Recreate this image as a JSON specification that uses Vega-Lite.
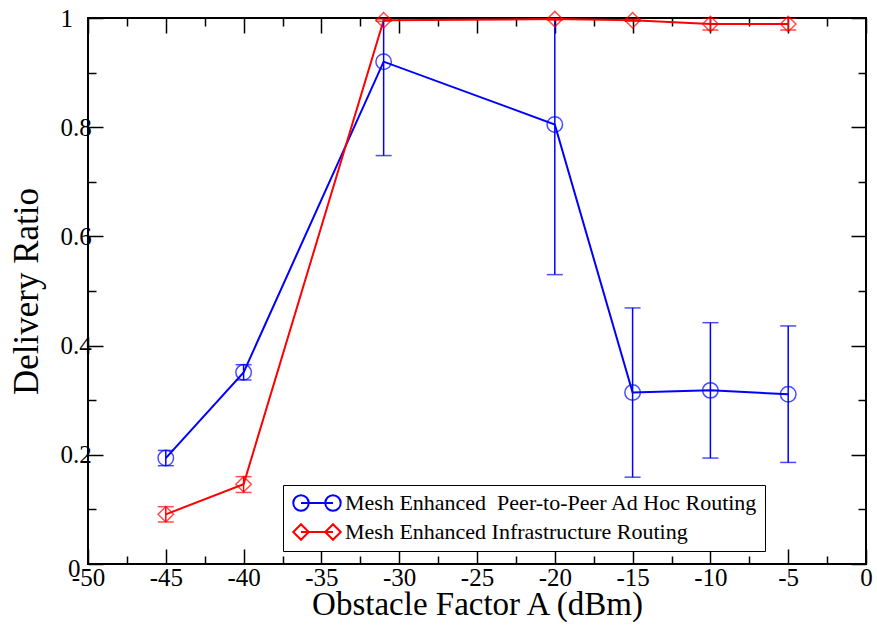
{
  "$schema": "https://vega.github.io/schema/vega-lite/v6.json",
  "autosize": {"type": "none"},
  "width": 778,
  "height": 546,
  "padding": {"left": 88, "top": 18, "right": 11, "bottom": 62},
  "background": "white",
  "config": {
    "font": "Liberation Serif",
    "view": {"stroke": "black", "strokeWidth": 2},
    "axis": {"domain": false, "grid": false, "labelFont": "Liberation Serif", "titleFont": "Liberation Serif", "titleFontWeight": "normal", "labelColor": "black", "titleColor": "black", "tickColor": "black", "tickWidth": 1.5}
  },
  "data": {
    "values": [
      {"series": "Mesh Enhanced\u00a0 Peer-to-Peer Ad Hoc Routing", "x": -45, "y": 0.194, "lo": 0.180, "hi": 0.208},
      {"series": "Mesh Enhanced\u00a0 Peer-to-Peer Ad Hoc Routing", "x": -40, "y": 0.351, "lo": 0.337, "hi": 0.365},
      {"series": "Mesh Enhanced\u00a0 Peer-to-Peer Ad Hoc Routing", "x": -31, "y": 0.920, "lo": 0.748, "hi": 1.092},
      {"series": "Mesh Enhanced\u00a0 Peer-to-Peer Ad Hoc Routing", "x": -20, "y": 0.805, "lo": 0.530, "hi": 1.080},
      {"series": "Mesh Enhanced\u00a0 Peer-to-Peer Ad Hoc Routing", "x": -15, "y": 0.314, "lo": 0.159, "hi": 0.469},
      {"series": "Mesh Enhanced\u00a0 Peer-to-Peer Ad Hoc Routing", "x": -10, "y": 0.318, "lo": 0.194, "hi": 0.442},
      {"series": "Mesh Enhanced\u00a0 Peer-to-Peer Ad Hoc Routing", "x": -5, "y": 0.311, "lo": 0.186, "hi": 0.436},
      {"series": "Mesh Enhanced Infrastructure Routing", "x": -45, "y": 0.091, "lo": 0.077, "hi": 0.105},
      {"series": "Mesh Enhanced Infrastructure Routing", "x": -40, "y": 0.146, "lo": 0.131, "hi": 0.160},
      {"series": "Mesh Enhanced Infrastructure Routing", "x": -31, "y": 0.996, "lo": 0.994, "hi": 0.998},
      {"series": "Mesh Enhanced Infrastructure Routing", "x": -20, "y": 0.998, "lo": 0.996, "hi": 1.000},
      {"series": "Mesh Enhanced Infrastructure Routing", "x": -15, "y": 0.996, "lo": 0.994, "hi": 0.998},
      {"series": "Mesh Enhanced Infrastructure Routing", "x": -10, "y": 0.989, "lo": 0.978, "hi": 1.000},
      {"series": "Mesh Enhanced Infrastructure Routing", "x": -5, "y": 0.989, "lo": 0.978, "hi": 1.000}
    ]
  },
  "resolve": {"axis": {"x": "independent", "y": "independent"}},
  "layer": [
    {
      "mark": {"type": "line", "strokeWidth": 2, "clip": true},
      "encoding": {
        "x": {"field": "x", "type": "quantitative", "scale": {"domain": [-50, 0], "nice": false},
          "axis": {"orient": "bottom", "title": "Obstacle Factor A (dBm)", "titleFontSize": 33, "titlePadding": -9,
            "values": [-50, -47.5, -45, -42.5, -40, -37.5, -35, -32.5, -30, -27.5, -25, -22.5, -20, -17.5, -15, -12.5, -10, -7.5, -5, -2.5, 0],
            "labelExpr": "datum.value % 5 === 0 ? '' + datum.value : ''",
            "labelFontSize": 25, "labelPadding": 16, "labelFlush": false, "labelOverlap": false,
            "tickSize": {"condition": {"test": "datum.value % 5 === 0", "value": -15}, "value": -8}}},
        "y": {"field": "y", "type": "quantitative", "scale": {"domain": [0, 1], "nice": false},
          "axis": {"orient": "left", "title": "Delivery Ratio", "titleFontSize": 35, "titlePadding": 9,
            "values": [0, 0.1, 0.2, 0.3, 0.4, 0.5, 0.6, 0.7, 0.8, 0.9, 1],
            "labelExpr": "abs(datum.value * 5 - round(datum.value * 5)) < 0.000001 ? '' + datum.value : ''",
            "labelFontSize": 25, "labelFlush": false, "labelOverlap": false,
            "labelAlign": {"condition": {"test": "datum.value === 0", "value": "right"}, "value": "left"},
            "labelPadding": {"condition": {"test": "datum.value === 0", "value": 23}, "value": 43},
            "labelOffset": {"condition": {"test": "datum.value === 0", "value": 4}, "value": 0},
            "tickSize": {"condition": {"test": "abs(datum.value * 5 - round(datum.value * 5)) < 0.000001", "value": -15}, "value": -8}}},
        "detail": {"field": "series", "type": "nominal"},
        "color": {"condition": {"test": "datum.series === 'Mesh Enhanced Infrastructure Routing'", "value": "#ff0000"}, "value": "#0000ff"}
      }
    },
    {
      "mark": {"type": "rule", "strokeWidth": 1.5, "clip": true},
      "encoding": {
        "x": {"field": "x", "type": "quantitative",
          "axis": {"orient": "top", "title": null, "labels": false,
            "values": [-50, -47.5, -45, -42.5, -40, -37.5, -35, -32.5, -30, -27.5, -25, -22.5, -20, -17.5, -15, -12.5, -10, -7.5, -5, -2.5, 0],
            "tickSize": {"condition": {"test": "datum.value % 5 === 0", "value": -15}, "value": -8}}},
        "y": {"field": "lo", "type": "quantitative",
          "axis": {"orient": "right", "title": null, "labels": false,
            "values": [0, 0.1, 0.2, 0.3, 0.4, 0.5, 0.6, 0.7, 0.8, 0.9, 1],
            "tickSize": {"condition": {"test": "abs(datum.value * 5 - round(datum.value * 5)) < 0.000001", "value": -15}, "value": -8}}},
        "y2": {"field": "hi"},
        "color": {"condition": {"test": "datum.series === 'Mesh Enhanced Infrastructure Routing'", "value": "#ff0000"}, "value": "#0000ff"}
      }
    },
    {
      "mark": {"type": "tick", "orient": "horizontal", "size": 16, "thickness": 1.5, "clip": true},
      "encoding": {
        "x": {"field": "x", "type": "quantitative", "axis": null},
        "y": {"field": "lo", "type": "quantitative", "axis": null},
        "color": {"condition": {"test": "datum.series === 'Mesh Enhanced Infrastructure Routing'", "value": "#ff0000"}, "value": "#0000ff"}
      }
    },
    {
      "mark": {"type": "tick", "orient": "horizontal", "size": 16, "thickness": 1.5, "clip": true},
      "encoding": {
        "x": {"field": "x", "type": "quantitative", "axis": null},
        "y": {"field": "hi", "type": "quantitative", "axis": null},
        "color": {"condition": {"test": "datum.series === 'Mesh Enhanced Infrastructure Routing'", "value": "#ff0000"}, "value": "#0000ff"}
      }
    },
    {
      "mark": {"type": "point", "filled": false, "size": 240, "strokeWidth": 1.5},
      "encoding": {
        "x": {"field": "x", "type": "quantitative", "axis": null},
        "y": {"field": "y", "type": "quantitative", "axis": null},
        "color": {"condition": {"test": "datum.series === 'Mesh Enhanced Infrastructure Routing'", "value": "#ff0000"}, "value": "#0000ff"},
        "shape": {"condition": {"test": "datum.series === 'Mesh Enhanced Infrastructure Routing'", "value": "diamond"}, "value": "circle"}
      }
    },
    {
      "mark": {"type": "point", "filled": false, "size": 240, "strokeWidth": 2, "opacity": 0},
      "encoding": {
        "x": {"field": "x", "type": "quantitative", "axis": null},
        "y": {"field": "y", "type": "quantitative", "axis": null},
        "color": {"field": "series", "type": "nominal",
          "scale": {"domain": ["Mesh Enhanced\u00a0 Peer-to-Peer Ad Hoc Routing", "Mesh Enhanced Infrastructure Routing"], "range": ["#0000ff", "#ff0000"]},
          "legend": {"orient": "none", "legendX": 195, "legendY": 467, "title": null, "padding": 7, "rowPadding": 5,
            "strokeColor": "black", "fillColor": "white", "labelFont": "Liberation Serif", "labelFontSize": 22, "labelLimit": 600,
            "labelColor": "black", "labelOffset": 33, "symbolStrokeWidth": 2, "symbolSize": 240, "symbolOpacity": 1}},
        "shape": {"field": "series", "type": "nominal",
          "scale": {"domain": ["Mesh Enhanced\u00a0 Peer-to-Peer Ad Hoc Routing", "Mesh Enhanced Infrastructure Routing"],
            "range": ["M-1,0A1,1,0,1,0,1,0A1,1,0,1,0,-1,0Z M0,0L4.13,0 M3.13,0A1,1,0,1,0,5.13,0A1,1,0,1,0,3.13,0Z", "M-1,0L0,-1L1,0L0,1Z M0,0L4.13,0 M3.13,0L4.13,-1L5.13,0L4.13,1Z"]},
          "legend": {"orient": "none", "legendX": 195, "legendY": 467, "title": null, "padding": 7, "rowPadding": 5,
            "strokeColor": "black", "fillColor": "white", "labelFont": "Liberation Serif", "labelFontSize": 22, "labelLimit": 600,
            "labelColor": "black", "labelOffset": 33, "symbolStrokeWidth": 2, "symbolSize": 240, "symbolOpacity": 1}}
      }
    }
  ]
}
